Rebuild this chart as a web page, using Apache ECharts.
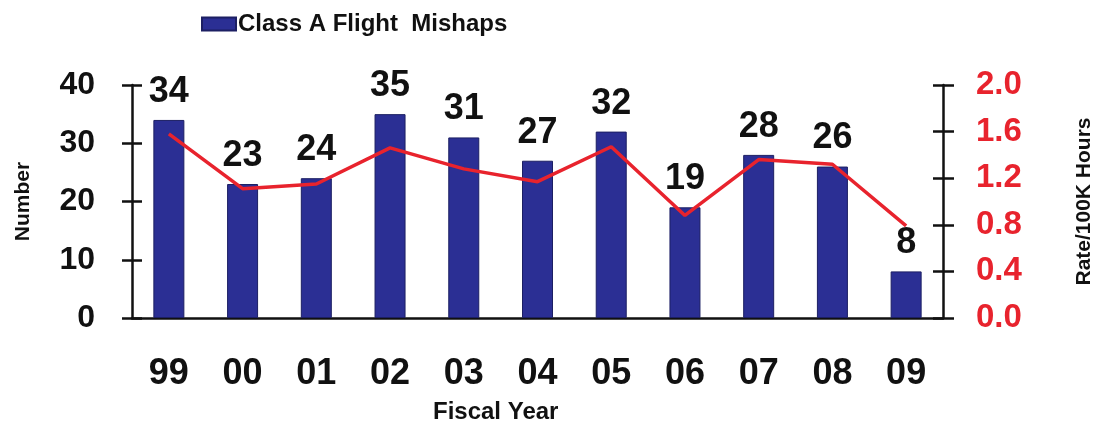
<!DOCTYPE html>
<html>
<head>
<meta charset="utf-8">
<script src="https://cdn.jsdelivr.net/npm/echarts@6/dist/echarts.min.js"></script>
<style>html,body{margin:0;padding:0;background:#fff}#c{width:1103px;height:435px}</style>
</head>
<body>
<div id="c"></div>
<script>
const years = ['99','00','01','02','03','04','05','06','07','08','09'];
const mishaps = [34,23,24,35,31,27,32,19,28,26,8];
const rates = [1.58,1.11,1.15,1.46,1.28,1.17,1.47,0.88,1.36,1.32,0.79];
const leftTicks = [0,10,20,30,40];
const rightTicks = [0.0,0.4,0.8,1.2,1.6,2.0];

const FONT = '"Liberation Sans", Arial, sans-serif';
const INK = '#111';
const RED = '#e8232d';
const chart = echarts.init(document.getElementById('c'));

const axisLineStyle = {color: INK, width: 2.5};
function dupY(min, max, interval, pos) {
  return {
    type: 'value', min, max, interval, position: pos,
    axisLine: {show: false}, axisLabel: {show: false}, splitLine: {show: false},
    axisTick: {show: true, inside: true, length: 10, lineStyle: axisLineStyle}
  };
}

chart.setOption({
  animation: false,
  backgroundColor: '#fff',
  textStyle: {fontFamily: FONT},
  legend: {
    left: 196, top: 7,
    icon: 'rect',
    itemWidth: 34, itemHeight: 13, itemGap: 4,
    data: ['Class A Flight  Mishaps'],
    textStyle: {fontFamily: FONT, fontWeight: 'bold', fontSize: 24, color: INK, padding: [0,0,0,-3]}
  },
  grid: {left: 132, right: 156, top: 85, bottom: 117},
  graphic: [{
    type: 'text', left: 433, top: 400,
    style: {text: 'Fiscal Year', font: 'bold 24px ' + FONT, fill: INK}
  }],
  xAxis: [{
    type: 'category', data: years,
    axisLine: {lineStyle: axisLineStyle},
    axisTick: {length: 12, lineStyle: axisLineStyle},
    axisLabel: {margin: 38, color: INK, fontWeight: 'bold', fontSize: 36, fontFamily: FONT}
  },{
    type: 'category', data: years, position: 'bottom',
    axisLine: {show: false}, axisLabel: {show: false},
    axisTick: {inside: true, length: 10, lineStyle: axisLineStyle}
  }],
  yAxis: [{
    type: 'value', min: leftTicks[0], max: leftTicks[leftTicks.length-1], interval: 10,
    name: 'Number', nameLocation: 'middle', nameGap: 98, nameRotate: 90,
    nameTextStyle: {color: INK, fontWeight: 'bold', fontSize: 21, fontFamily: FONT},
    axisLine: {show: true, lineStyle: axisLineStyle},
    axisTick: {show: true, length: 10, lineStyle: axisLineStyle},
    splitLine: {show: false},
    axisLabel: {margin: 37, color: INK, fontWeight: 'bold', fontSize: 32, fontFamily: FONT}
  },{
    type: 'value', min: rightTicks[0], max: rightTicks[rightTicks.length-1], interval: 0.4, position: 'right',
    name: 'Rate/100K Hours', nameLocation: 'middle', nameGap: 131, nameRotate: 90,
    nameTextStyle: {color: INK, fontWeight: 'bold', fontSize: 21, fontFamily: FONT},
    axisLine: {show: true, lineStyle: axisLineStyle},
    axisTick: {show: true, length: 11, lineStyle: axisLineStyle},
    splitLine: {show: false},
    axisLabel: {margin: 33, color: RED, fontWeight: 'bold', fontSize: 33, fontFamily: FONT,
      formatter: v => v.toFixed(1)}
  },
  dupY(0, 40, 10, 'left'),
  dupY(0, 2, 0.4, 'right')
  ],
  series: [{
    name: 'Class A Flight  Mishaps', type: 'bar', data: mishaps, barWidth: 31,
    itemStyle: {color: '#2b2f94', borderColor: '#1c1f63', borderWidth: 1},
    label: {show: true, position: 'top', distance: 10, color: INK, fontWeight: 'bold', fontSize: 36, fontFamily: FONT}
  },{
    name: 'Rate', type: 'line', yAxisIndex: 1, data: rates,
    symbol: 'none', lineStyle: {color: RED, width: 3.5},
    z: 3
  }]
});
</script>
</body>
</html>
